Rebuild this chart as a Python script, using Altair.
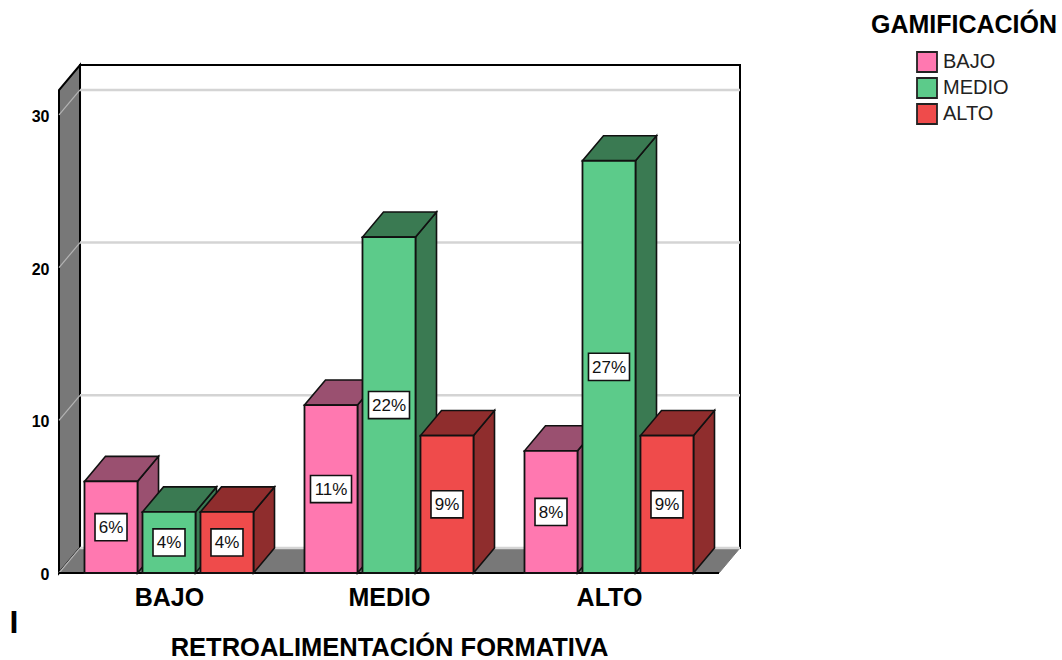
import altair as alt
import pandas as pd

# Survey results, percentage of respondents per group
categories = ["BAJO", "MEDIO", "ALTO"]
series = ["BAJO", "MEDIO", "ALTO"]
values_bajo = [6, 11, 8]
values_medio = [4, 22, 27]
values_alto = [4, 9, 9]
y_ticks = [0, 10, 20, 30]

front_colors = ["#FF78B0", "#5CCB8A", "#EF4B4B"]
shade_colors = ["#9A5070", "#3A7A52", "#8F2D2D"]
wall_color = "#787878"
grid_color = "#D4D4D4"
wall_grid_color = "#B4B4B4"
font = "Liberation Sans"

# Oblique projection, in axis units
BAR_STEP = 0.2636
BAR_WIDTH = 0.241
DEPTH_X = 0.0955
DEPTH_Y = 1.64
X_MIN, X_MAX = -0.5, 2.5 + DEPTH_X
Y_TOP = 31.63 + DEPTH_Y
LABEL_W_ONE = 0.0727
LABEL_W_TWO = 0.0932
LABEL_H = 0.89


def slab(name, x0, x1, base, shade):
    """Horizontal parallelogram receding from the front edge x0..x1 at height base."""
    return [
        dict(face=name, shade=shade, x=x0, lo=base, hi=base),
        dict(face=name, shade=shade, x=x0 + DEPTH_X, lo=base, hi=base + DEPTH_Y),
        dict(face=name, shade=shade, x=x1, lo=base, hi=base + DEPTH_Y),
        dict(face=name, shade=shade, x=x1 + DEPTH_X, lo=base + DEPTH_Y, hi=base + DEPTH_Y),
    ]


def wall(name, x0, low, high, shade):
    """Vertical parallelogram receding from the edge at x0."""
    return [
        dict(face=name, shade=shade, x=x0, lo=low, hi=high),
        dict(face=name, shade=shade, x=x0 + DEPTH_X, lo=low + DEPTH_Y, hi=high + DEPTH_Y),
    ]


bars, tops, sides, labels = [], [], [], []
all_values = [values_bajo, values_medio, values_alto]
for s, (name, vals) in enumerate(zip(series, all_values)):
    for c, v in enumerate(vals):
        centre = c + (s - 1) * BAR_STEP
        x0, x1 = centre - BAR_WIDTH / 2, centre + BAR_WIDTH / 2
        key = f"{c}-{s}"
        bars.append(dict(series=name, x=x0, x2=x1, y=0, y2=v))
        tops += slab(key, x0, x1, v, shade_colors[s])
        sides += wall(key, x1, 0, v, shade_colors[s])
        half = LABEL_W_TWO if v >= 10 else LABEL_W_ONE
        labels.append(dict(x=centre, x0=centre - half, x1=centre + half,
                           y=v / 2, y0=v / 2 - LABEL_H, y1=v / 2 + LABEL_H,
                           text=f"{v}%"))

bars, tops, sides, labels = map(pd.DataFrame, (bars, tops, sides, labels))

grid_back = pd.DataFrame([
    row
    for t in y_ticks
    for row in (
        dict(level=t, x=X_MIN + DEPTH_X, y=t + DEPTH_Y),
        dict(level=t, x=X_MAX, y=t + DEPTH_Y),
    )
])
grid_wall = pd.DataFrame([
    row
    for t in y_ticks
    for row in (
        dict(level=t, x=X_MIN, y=t),
        dict(level=t, x=X_MIN + DEPTH_X, y=t + DEPTH_Y),
    )
])

x_scale = alt.Scale(domain=[X_MIN, X_MAX], nice=False, zero=False)
y_scale = alt.Scale(domain=[0, Y_TOP], nice=False, zero=False)

# Every layer carries the same axis definition so Vega-Lite merges them into one
x_axis = alt.Axis(
    values=[0, 1, 2],
    labelExpr="['BAJO','MEDIO','ALTO'][datum.value]",
    title="RETROALIMENTACIÓN FORMATIVA",
    titleFont=font, titleFontSize=25.5, titleFontWeight="bold", titleColor="black",
    titleX=330, titleY=62,
    labelFont=font, labelFontSize=25, labelFontWeight="bold", labelColor="black",
    labelPadding=12, labelFlush=False, labelOverlap=False,
    ticks=False, domain=False, grid=False,
)
y_axis = alt.Axis(
    values=y_ticks, title=None,
    labelFont=font, labelFontSize=16, labelFontWeight="bold", labelColor="black",
    labelPadding=10, labelOffset=1.5, labelFlush=False,
    ticks=False, domain=False, grid=False,
)

X = alt.X("x:Q", scale=x_scale, axis=x_axis)
Y = alt.Y("y:Q", scale=y_scale, axis=y_axis)
LO = alt.Y("lo:Q", scale=y_scale, axis=y_axis, stack=None)
HI = alt.Y2("hi:Q")
FILL = alt.Fill("shade:N", scale=None)


def faces(frame, stroke, width):
    return alt.Chart(frame).mark_area(
        orient="vertical", stroke=stroke, strokeWidth=width, opacity=1
    ).encode(x=X, y=LO, y2=HI, fill=FILL, detail="face:N")


back = alt.Chart(pd.DataFrame([dict(x=X_MIN + DEPTH_X, x2=X_MAX, y=DEPTH_Y, y2=Y_TOP)])).mark_rect(
    fill="white", stroke="black", strokeWidth=2
).encode(x=X, x2="x2:Q", y=Y, y2="y2:Q")

left_wall = faces(pd.DataFrame(wall("left", X_MIN, 0, Y_TOP - DEPTH_Y, wall_color)), "black", 2)
floor = faces(pd.DataFrame(slab("floor", X_MIN, X_MAX - DEPTH_X, 0, wall_color)), wall_color, 1)

grid_lines = alt.Chart(grid_back).mark_line(color=grid_color, strokeWidth=2.5).encode(
    x=X, y=Y, detail="level:N"
)
wall_grid_lines = alt.Chart(grid_wall).mark_line(color=wall_grid_color, strokeWidth=1.2).encode(
    x=X, y=Y, detail="level:N"
)

front_edge = alt.Chart(pd.DataFrame([dict(x=X_MIN, x2=X_MAX - DEPTH_X, y=0)])).mark_rule(
    color="black", strokeWidth=2
).encode(x=X, x2="x2:Q", y=Y)

side_faces = faces(sides, "#111111", 1.6)
top_faces = faces(tops, "#111111", 1.6)

fronts = alt.Chart(bars).mark_rect(stroke="#111111", strokeWidth=1.8, opacity=1).encode(
    x=X, x2="x2:Q", y=Y, y2="y2:Q",
    color=alt.Color("series:N", sort=series, scale=alt.Scale(domain=series, range=front_colors),
                    legend=alt.Legend(
                        orient="none", legendX=857, legendY=-14, title=None,
                        symbolType="square", symbolSize=400, symbolStrokeColor="#222222",
                        symbolStrokeWidth=1.8, symbolOpacity=1,
                        labelFont=font, labelFontSize=20, labelColor="#222222",
                        labelOffset=5, rowPadding=-2,
                    )),
)

label_boxes = alt.Chart(labels).mark_rect(fill="white", stroke="#111111", strokeWidth=1.6).encode(
    x=alt.X("x0:Q", scale=x_scale, axis=x_axis), x2="x1:Q",
    y=alt.Y("y0:Q", scale=y_scale, axis=y_axis), y2="y1:Q",
)
label_text = alt.Chart(labels).mark_text(font=font, fontSize=17, color="#111111", dy=1).encode(
    x=X, y=Y, text="text:N"
)

legend_title = alt.Chart(pd.DataFrame([dict(t="GAMIFICACIÓN")])).mark_text(
    font=font, fontSize=25, fontWeight="bold", color="black", align="center", baseline="middle"
).encode(x=alt.value(905), y=alt.value(-40), text="t:N")

stray_mark = alt.Chart(pd.DataFrame([dict(t="I")])).mark_text(
    font=font, fontSize=32, fontWeight="bold", color="black", align="center", baseline="middle"
).encode(x=alt.value(-45), y=alt.value(558), text="t:N")

chart = alt.layer(
    back, left_wall, floor, grid_lines, wall_grid_lines, front_edge,
    side_faces, top_faces, fronts, label_boxes, label_text,
    legend_title, stray_mark,
).properties(
    width=681, height=508,
    padding={"left": 59, "top": 65, "right": 322, "bottom": 87},
    autosize=alt.AutoSizeParams(type="none"),
    background="white",
).configure_view(stroke=None)

chart.save("out.html", embed_options={"renderer": "svg", "actions": False})
